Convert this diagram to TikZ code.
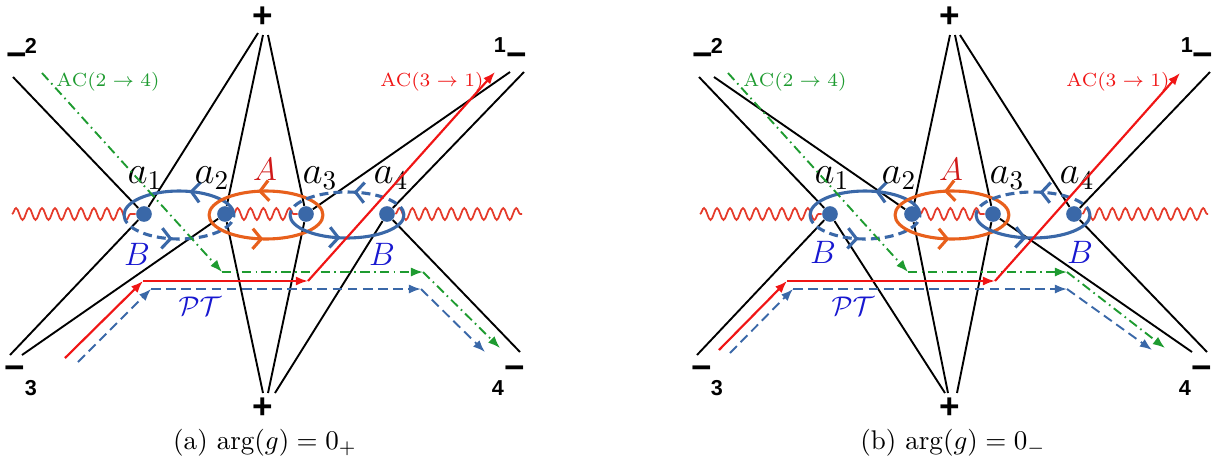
\documentclass[tikz,border=0pt]{standalone}
\usepackage{fontspec}
\newfontfamily\lblfont{Liberation Sans}
\definecolor{dotblue}{HTML}{3A68A8}
\definecolor{ringorange}{HTML}{E8601C}
\definecolor{wavered}{HTML}{E53A2A}
\definecolor{acred}{HTML}{F01515}
\definecolor{acgreen}{HTML}{1E9B30}
\definecolor{labblue}{HTML}{1818D0}
\definecolor{labred}{HTML}{D01818}
\usetikzlibrary{arrows.meta, decorations.pathmorphing, decorations.markings}

\begin{document}
\begin{tikzpicture}[x=0.37pt, y=-0.37pt]
  \tikzset{
    saddle/.style={circle, fill=dotblue, inner sep=0pt, minimum size=5.8pt},
    stokes/.style={black, line width=0.7pt},
    wavy/.style={wavered, line width=0.65pt, decorate,
                 decoration={snake, amplitude=2.2pt, segment length=4.8pt}},
    ring/.style={line width=1.15pt},
    midarrow/.style={postaction=decorate, decoration={markings,
                     mark=at position #1 with {\arrow{Straight Barb[length=3.2pt, width=7.5pt]}}}},
    acgr/.style={acgreen, line width=0.7pt,
                 dash pattern=on 3.5pt off 1.6pt on 0.6pt off 1.6pt, -{Latex[length=4.5pt, width=3.4pt]}},
    acrd/.style={acred, line width=0.8pt, -{Latex[length=4.5pt, width=3.4pt]}},
    ptpath/.style={dotblue, line width=0.7pt, dash pattern=on 3.6pt off 2pt,
                   -{Latex[length=4.5pt, width=3.4pt]}},
    pm/.style={font=\lblfont\bfseries\fontsize{13}{13}\selectfont, inner sep=0pt},
    num/.style={font=\lblfont\bfseries\fontsize{8}{8}\selectfont, inner sep=0pt},
    alab/.style={font=\fontsize{14.4}{16}\selectfont, inner sep=0pt},
    rlab/.style={font=\fontsize{12}{14}\selectfont}
  }
  \useasboundingbox (0,0) rectangle (1214,463);

  % ---------------- (a) ----------------
  \node[saddle] (sa1) at (144,214) {};
  \node[saddle] (sa2) at (225,214) {};
  \node[saddle] (sa3) at (306,214) {};
  \node[saddle] (sa4) at (387,214) {};

  \node[pm] (pta) at (263,17) {+};
  \node[pm] (pba) at (263,408) {+};
  \node[pm] (m2a) at (17,60) {−};  \node[num] (n2a) at (31,46) {2};
  \node[num] (n1a) at (500,45) {1}; \node[pm] (m1a) at (517,60) {−};
  \node[pm] (m3a) at (15,373) {−}; \node[num] (n3a) at (31,388) {3};
  \node[num] (n4a) at (498,388) {4}; \node[pm] (m4a) at (515,373) {−};

  \coordinate (ta1) at (258,33);  \coordinate (ta2) at (263,35);  \coordinate (ta3) at (268,35);
  \coordinate (ba2) at (263,393); \coordinate (ba3) at (268,393); \coordinate (ba4) at (275,393);
  \coordinate (ea2) at (13,77);
  \coordinate (ea1a) at (510,72); \coordinate (ea1b) at (524,72);
  \coordinate (ea3a) at (10,355); \coordinate (ea3b) at (22,355);
  \coordinate (ea4) at (520,352);

  \draw[stokes] (ea2) -- (sa1);  \draw[stokes] (ta1) -- (sa1);  \draw[stokes] (ea3a) -- (sa1);
  \draw[stokes] (ta2) -- (sa2);  \draw[stokes] (ba2) -- (sa2);  \draw[stokes] (ea3b) -- (sa2);
  \draw[stokes] (ta3) -- (sa3);  \draw[stokes] (ba3) -- (sa3);  \draw[stokes] (ea1a) -- (sa3);
  \draw[stokes] (ba4) -- (sa4);  \draw[stokes] (ea1b) -- (sa4);  \draw[stokes] (ea4) -- (sa4);

  \coordinate (wa0) at (12,214); \coordinate (wa1) at (522,214);
  \draw[wavy] (wa0) -- (sa1.west);
  \draw[wavy] (sa2.east) -- (sa3.west);
  \draw[wavy] (sa4.east) -- (wa1);

  % rings
  \draw[ring, dotblue, midarrow=0.42] (179,215) ++(55,0) arc[start angle=0, end angle=-180, x radius=55, y radius=24];
  \draw[ring, dotblue, dash pattern=on 3.3pt off 1.9pt, midarrow=0.45] (179,215) ++(-55,0) arc[start angle=180, end angle=0, x radius=55, y radius=24];
  \draw[ring, ringorange, midarrow=0.56] (266,215) ++(57,0) arc[start angle=0, end angle=-180, x radius=57, y radius=24];
  \draw[ring, ringorange, midarrow=0.48] (266,215) ++(-57,0) arc[start angle=180, end angle=0, x radius=57, y radius=24];
  \draw[ring, dotblue, dash pattern=on 3.3pt off 1.9pt, midarrow=0.45] (347,215) ++(57,0) arc[start angle=0, end angle=-180, x radius=57, y radius=23];
  \draw[ring, dotblue, midarrow=0.45] (347,215) ++(-57,0) arc[start angle=180, end angle=0, x radius=57, y radius=23];

  \node[alab] (la1) at (145,178) {$a_1$};
  \node[alab] (la2) at (212,178) {$a_2$};
  \node[alab] (la3) at (320,178) {$a_3$};
  \node[alab] (la4) at (391,178) {$a_4$};
  \node[rlab, text=labred] (Aa) at (265,169) {$A$};
  \node[rlab, text=labblue] (Ba1) at (137,254) {$B$};
  \node[rlab, text=labblue] (Ba2) at (382,254) {$B$};

  % paths
  \coordinate (ga0) at (42,73);  \coordinate (ga1) at (222,272);
  \coordinate (ga2) at (423,272); \coordinate (ga3) at (500,348);
  \draw[acgr] (ga0) -- (ga1);  \draw[acgr] (ga1) -- (ga2);  \draw[acgr] (ga2) -- (ga3);
  \coordinate (ra0) at (65,358);  \coordinate (ra1) at (143,281);
  \coordinate (ra2) at (308,281); \coordinate (ra3) at (495,72);
  \draw[acrd] (ra0) -- (ra1);  \draw[acrd] (ra1) -- (ra2);  \draw[acrd] (ra2) -- (ra3);
  \coordinate (pa0) at (78,362);  \coordinate (pa1) at (151,289);
  \coordinate (pa2) at (421,289); \coordinate (pa3) at (485,352);
  \draw[ptpath] (pa0) -- (pa1);  \draw[ptpath] (pa1) -- (pa2);  \draw[ptpath] (pa2) -- (pa3);

  \node[font=\scriptsize, text=acgreen] (aca1) at (108,82) {AC$(2\to 4)$};
  \node[font=\scriptsize, text=acred] (aca2) at (432,82) {AC$(3\to 1)$};
  \node[text=labblue] (pta1) at (200,306) {$\mathcal{PT}$};
  \node (capa) at (265,443) {(a) $\arg(g)=0_+$};

  % ---------------- (b) ----------------
  \node[saddle] (sb1) at (830,214) {};
  \node[saddle] (sb2) at (912,214) {};
  \node[saddle] (sb3) at (993,214) {};
  \node[saddle] (sb4) at (1074,214) {};

  \node[pm] (ptb) at (950,17) {+};
  \node[pm] (pbb) at (950,408) {+};
  \node[pm] (m2b) at (703,60) {−};  \node[num] (n2b) at (717,46) {2};
  \node[num] (n1b) at (1187,45) {1}; \node[pm] (m1b) at (1203,60) {−};
  \node[pm] (m3b) at (702,373) {−}; \node[num] (n3b) at (717,388) {3};
  \node[num] (n4b) at (1185,388) {4}; \node[pm] (m4b) at (1202,373) {−};

  \coordinate (tb2) at (950,35);  \coordinate (tb3) at (955,35);  \coordinate (tb4) at (960,35);
  \coordinate (bb1) at (945,393); \coordinate (bb2) at (948,393); \coordinate (bb3) at (957,393);
  \coordinate (eb2a) at (699,77); \coordinate (eb2b) at (714,77);
  \coordinate (eb1) at (1210,72);
  \coordinate (eb3) at (697,355);
  \coordinate (eb4a) at (1192,352); \coordinate (eb4b) at (1207,352);

  \draw[stokes] (eb2a) -- (sb1); \draw[stokes] (eb3) -- (sb1);  \draw[stokes] (bb1) -- (sb1);
  \draw[stokes] (eb2b) -- (sb2); \draw[stokes] (tb2) -- (sb2);  \draw[stokes] (bb2) -- (sb2);
  \draw[stokes] (tb3) -- (sb3);  \draw[stokes] (bb3) -- (sb3);  \draw[stokes] (eb4a) -- (sb3);
  \draw[stokes] (tb4) -- (sb4);  \draw[stokes] (eb1) -- (sb4);  \draw[stokes] (eb4b) -- (sb4);

  \coordinate (wb0) at (700,214); \coordinate (wb1) at (1208,214);
  \draw[wavy] (wb0) -- (sb1.west);
  \draw[wavy] (sb2.east) -- (sb3.west);
  \draw[wavy] (sb4.east) -- (wb1);

  % rings
  \draw[ring, dotblue, midarrow=0.42] (865,215) ++(55,0) arc[start angle=0, end angle=-180, x radius=55, y radius=24];
  \draw[ring, dotblue, dash pattern=on 3.3pt off 1.9pt, midarrow=0.45] (865,215) ++(-55,0) arc[start angle=180, end angle=0, x radius=55, y radius=24];
  \draw[ring, ringorange, midarrow=0.56] (952,215) ++(57,0) arc[start angle=0, end angle=-180, x radius=57, y radius=24];
  \draw[ring, ringorange, midarrow=0.48] (952,215) ++(-57,0) arc[start angle=180, end angle=0, x radius=57, y radius=24];
  \draw[ring, dotblue, dash pattern=on 3.3pt off 1.9pt, midarrow=0.45] (1033,215) ++(57,0) arc[start angle=0, end angle=-180, x radius=57, y radius=23];
  \draw[ring, dotblue, midarrow=0.45] (1033,215) ++(-57,0) arc[start angle=180, end angle=0, x radius=57, y radius=23];

  \node[alab] (lb1) at (832,178) {$a_1$};
  \node[alab] (lb2) at (899,178) {$a_2$};
  \node[alab] (lb3) at (1007,178) {$a_3$};
  \node[alab] (lb4) at (1077,178) {$a_4$};
  \node[rlab, text=labred] (Ab) at (951,169) {$A$};
  \node[rlab, text=labblue] (Bb1) at (823,252) {$B$};
  \node[rlab, text=labblue] (Bb2) at (1080,252) {$B$};

  % paths
  \coordinate (gb0) at (728,73);   \coordinate (gb1) at (908,272);
  \coordinate (gb2) at (1067,272); \coordinate (gb3) at (1165,348);
  \draw[acgr] (gb0) -- (gb1);  \draw[acgr] (gb1) -- (gb2);  \draw[acgr] (gb2) -- (gb3);
  \coordinate (rb0) at (719,350);  \coordinate (rb1) at (787,281);
  \coordinate (rb2) at (995,281);  \coordinate (rb3) at (1180,73);
  \draw[acrd] (rb0) -- (rb1);  \draw[acrd] (rb1) -- (rb2);  \draw[acrd] (rb2) -- (rb3);
  \coordinate (pb0) at (730,353);  \coordinate (pb1) at (793,289);
  \coordinate (pb2) at (1067,289); \coordinate (pb3) at (1152,350);
  \draw[ptpath] (pb0) -- (pb1);  \draw[ptpath] (pb1) -- (pb2);  \draw[ptpath] (pb2) -- (pb3);

  \node[font=\scriptsize, text=acgreen] (acb1) at (795,82) {AC$(2\to 4)$};
  \node[font=\scriptsize, text=acred] (acb2) at (1118,82) {AC$(3\to 1)$};
  \node[text=labblue] (ptb1) at (853,306) {$\mathcal{PT}$};
  \node (capb) at (953,443) {(b) $\arg(g)=0_-$};
\end{tikzpicture}
\end{document}
